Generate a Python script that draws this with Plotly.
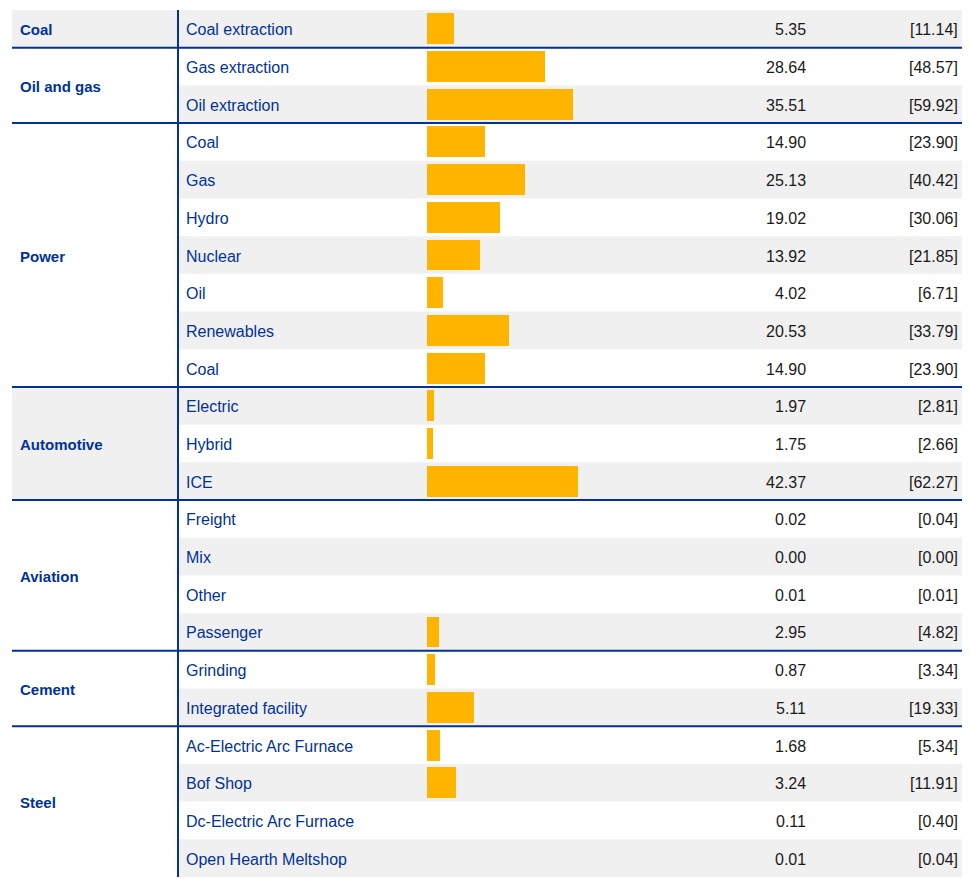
import plotly.graph_objects as go

# ---- data ----
groups = ["Coal", "Oil and gas", "Power", "Automotive", "Aviation", "Cement", "Steel"]
group_sizes = [1, 2, 7, 3, 4, 2, 4]
subcategories = [
    "Coal extraction",
    "Gas extraction", "Oil extraction",
    "Coal", "Gas", "Hydro", "Nuclear", "Oil", "Renewables", "Coal",
    "Electric", "Hybrid", "ICE",
    "Freight", "Mix", "Other", "Passenger",
    "Grinding", "Integrated facility",
    "Ac-Electric Arc Furnace", "Bof Shop", "Dc-Electric Arc Furnace", "Open Hearth Meltshop",
]
values = [
    5.35,
    28.64, 35.51,
    14.90, 25.13, 19.02, 13.92, 4.02, 20.53, 14.90,
    1.97, 1.75, 42.37,
    0.02, 0.00, 0.01, 2.95,
    0.87, 5.11,
    1.68, 3.24, 0.11, 0.01,
]
bracket_values = [
    11.14,
    48.57, 59.92,
    23.90, 40.42, 30.06, 21.85, 6.71, 33.79, 23.90,
    2.81, 2.66, 62.27,
    0.04, 0.00, 0.01, 4.82,
    3.34, 19.33,
    5.34, 11.91, 0.40, 0.04,
]

# ---- styling ----
OFF = 8                      # page body margin
W, H = 970 - OFF, 879 - OFF
BLUE = "#003299"
GREY = "#f0f0f0"
YELLOW = "#FFB400"
TXT = "#1a1a1a"
FONT = "Arial, Liberation Sans, sans-serif"
FS = 16
scale = 2.43                 # px per unit for the bars
YS = -1                      # small vertical text nudge

def px(x):
    """page x-pixel -> paper fraction"""
    return (x - OFF) / W

n = len(subcategories)
rows = list(range(n))

# bars thinner than ~1 pixel are not visible in the original
bar_colors = [YELLOW if v * scale >= 1.5 else "rgba(0,0,0,0)" for v in bracket_values]

fig = go.Figure()
fig.add_trace(go.Bar(
    x=bracket_values, y=rows, orientation="h",
    marker=dict(color=bar_colors, line=dict(width=0)),
    width=0.82, hoverinfo="skip", showlegend=False,
))

shapes = []
annotations = []

# row shading (subcategory part)
for i in rows:
    if i % 2 == 0:
        shapes.append(dict(type="rect", xref="paper", yref="y",
                           x0=px(178), x1=px(965), y0=i - 0.5, y1=i + 0.5,
                           fillcolor=GREY, line=dict(width=0), layer="below"))

# group cells and separators
start = 0
for gi, (g, size) in enumerate(zip(groups, group_sizes)):
    end = start + size - 1
    if start % 2 == 0:
        shapes.append(dict(type="rect", xref="paper", yref="y",
                           x0=px(12), x1=px(178), y0=start - 0.5, y1=end + 0.5,
                           fillcolor=GREY, line=dict(width=0), layer="below"))
    annotations.append(dict(x=px(18), y=(start + end) / 2, xref="paper", yref="y",
                            text=f"<b>{g}</b>", showarrow=False, xanchor="left", yshift=YS,
                            font=dict(family=FONT, size=FS - 1, color=BLUE)))
    if gi < len(groups) - 1:
        shapes.append(dict(type="line", xref="paper", yref="y",
                           x0=px(12), x1=px(965), y0=end + 0.5, y1=end + 0.5,
                           line=dict(color=BLUE, width=2), layer="above"))
    start = end + 1

# vertical divider
shapes.append(dict(type="line", xref="paper", yref="y",
                   x0=px(178), x1=px(178), y0=-0.5, y1=n - 0.5,
                   line=dict(color=BLUE, width=2), layer="above"))

# text columns
for i in rows:
    annotations.append(dict(x=px(184), y=i, xref="paper", yref="y",
                            text=subcategories[i], showarrow=False, xanchor="left", yshift=YS,
                            font=dict(family=FONT, size=FS, color=BLUE)))
    annotations.append(dict(x=px(808), y=i, xref="paper", yref="y",
                            text=f"{values[i]:.2f}", showarrow=False, xanchor="right", yshift=YS,
                            font=dict(family=FONT, size=FS, color=TXT)))
    annotations.append(dict(x=px(960), y=i, xref="paper", yref="y",
                            text=f"[{bracket_values[i]:.2f}]", showarrow=False, xanchor="right",
                            yshift=YS, font=dict(family=FONT, size=FS, color=TXT)))

fig.update_layout(
    width=W, height=H,
    margin=dict(l=0, r=0, t=10 - OFF, b=2),
    paper_bgcolor="white", plot_bgcolor="rgba(0,0,0,0)",
    shapes=shapes, annotations=annotations,
    xaxis=dict(domain=[px(427), 1], range=[0, (970 - 427) / scale],
               visible=False, fixedrange=True),
    yaxis=dict(range=[n - 0.5, -0.5], visible=False, fixedrange=True),
    bargap=0, font=dict(family=FONT),
)

fig.write_html("out.html", config={"displayModeBar": False})
